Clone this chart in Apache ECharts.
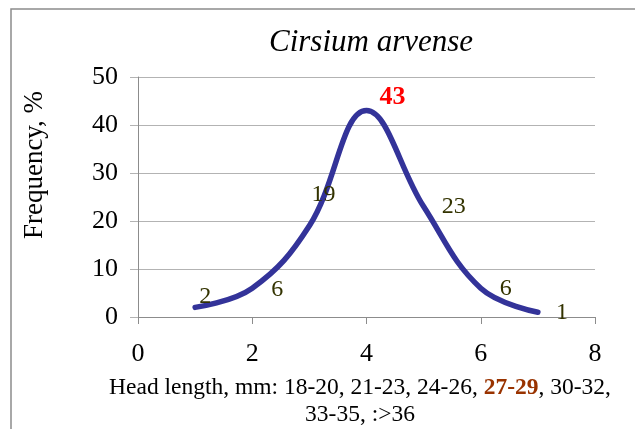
<!DOCTYPE html>
<html>
<head>
<meta charset="utf-8">
<script src="https://cdn.jsdelivr.net/npm/echarts@6/dist/echarts.min.js"></script>
<style>
  html, body { margin: 0; padding: 0; background: #fff; }
  #chart { width: 635px; height: 429px; }
</style>
</head>
<body>
<div id="chart"></div>
<script>
// 头长度分组（mm）及频率（%）
const headClasses = ["18-20", "21-23", "24-26", "27-29", "30-32", "33-35", ":>36"];
const classIndex = [1, 2, 3, 4, 5, 6, 7];
const frequency = [2, 6, 19, 43, 23, 6, 1];
const modalIndex = 3; // 27-29 最多

// 标签相对数据点的偏移
const labelOffsets = [[10, -11], [25, 2], [14, -31], [26, -13], [30, 0], [25, 1], [24, 1]];

const serif = "Liberation Serif";

// x 轴说明文字，两行，众数组加粗
let nameParts = headClasses.map((c, i) => (i === modalIndex ? "{b|" + c + "}" : c) + ",");
nameParts[nameParts.length - 1] = headClasses[headClasses.length - 1];
const xName = "Head length, mm: " + nameParts.slice(0, 5).join(" ") + "\n" + nameParts.slice(5).join(" ");

const seriesData = classIndex.map((x, i) => {
    let item = {
        value: [x, frequency[i]],
        label: { offset: labelOffsets[i] },
    };
    if (i === modalIndex) {
        item.label.color = "#ff0000";
        item.label.fontWeight = "bold";
        item.label.fontSize = 26;
    }
    return item;
});

const myChart = echarts.init(document.getElementById("chart"));
const options = {
    animation: false,
    backgroundColor: "#fff",
    title: [
        {
            text: "Cirsium arvense",
            left: 366,
            top: 22,
            textAlign: "center",
            textStyle: { fontFamily: serif, fontStyle: "italic", fontWeight: "normal", fontSize: 31, color: "#000" },
        },
        {
            text: xName,
            left: 355,
            top: 369,
            textAlign: "center",
            textStyle: {
                fontFamily: serif, fontWeight: "normal", fontSize: 23.5, lineHeight: 27, color: "#000",
                rich: {
                    b: { fontFamily: serif, fontWeight: "bold", fontSize: 23.5, lineHeight: 27, color: "#993300" },
                },
            },
        },
    ],
    graphic: [
        {
            type: "rect",
            shape: { x: 11, y: 9, width: 700, height: 500 },
            style: { fill: "none", stroke: "#8c8c8c", lineWidth: 1.5 },
            silent: true,
        },
        {
            type: "text",
            x: 35,
            y: 165,
            rotation: Math.PI / 2,
            style: {
                text: "Frequency, %",
                font: "27px " + serif,
                fill: "#000",
                align: "center",
                verticalAlign: "middle",
            },
        },
    ],
    grid: { left: 138, right: 40, top: 77, bottom: 112 },
    xAxis: {
        type: "value",
        min: 0,
        max: 8,
        interval: 2,
        axisLine: { show: true, lineStyle: { color: "#8c8c8c", width: 1 } },
        axisTick: { show: true, length: 7, lineStyle: { color: "#8c8c8c" } },
        axisLabel: { fontFamily: serif, fontSize: 26, color: "#000", margin: 24 },
        splitLine: { show: false },
    },
    yAxis: {
        type: "value",
        min: 0,
        max: 50,
        interval: 10,
        axisLine: { show: true, lineStyle: { color: "#8c8c8c", width: 1 } },
        axisTick: { show: true, length: 8, lineStyle: { color: "#b3b3b3" } },
        axisLabel: { fontFamily: serif, fontSize: 26, color: "#000", margin: 20 },
        splitLine: { show: true, lineStyle: { color: "#b3b3b3", width: 1 } },
    },
    series: [
        {
            type: "line",
            data: seriesData,
            smooth: 0.4,
            symbol: "circle",
            symbolSize: 1,
            itemStyle: { color: "rgba(0,0,0,0)" },
            lineStyle: { color: "#333399", width: 5.5, cap: "round", join: "round" },
            label: {
                show: true,
                position: "inside",
                fontFamily: serif,
                fontSize: 24,
                color: "#333300",
                formatter: (p) => p.value[1],
            },
        },
    ],
};
myChart.setOption(options);
</script>
</body>
</html>
